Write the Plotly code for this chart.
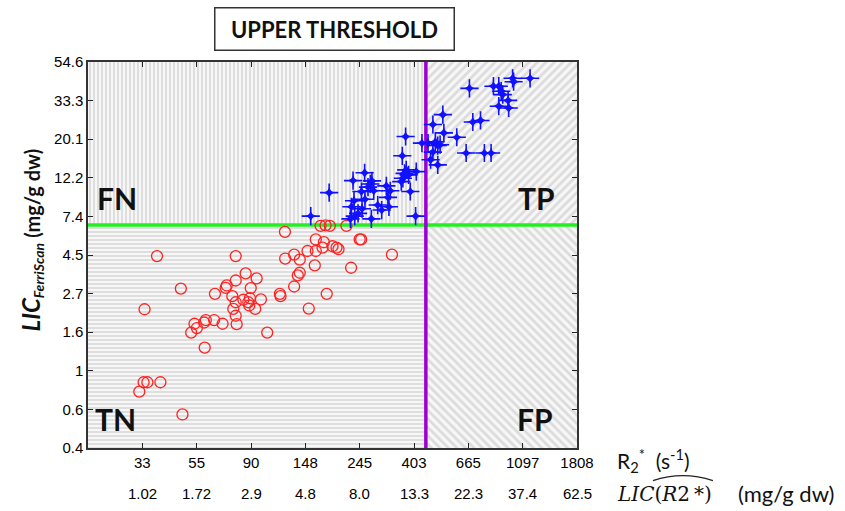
import numpy as np
import plotly.graph_objects as go

# ---------------- data ----------------
# Negative cases (red open circles): R2* (s^-1), LIC FerriScan (mg/g dw)
neg_r2 = [37.9, 78.2, 85.7, 78.2, 47.2, 72.0, 71.3, 64.6, 75.8, 78.2, 83.9, 87.8, 88.6, 89.8,
          33.8, 76.5, 78.2, 78.9, 69.3, 64.1, 59.4, 58.5, 53.5, 54.7, 51.9, 58.8, 33.5, 34.7,
          39.1, 32.2, 47.9, 170.7, 178.8, 185.9, 216.6, 123.0, 244.7, 248.0, 163.4, 176.0,
          190.6, 197.7, 201.4, 173.9, 163.4, 151.4, 133.9, 123.3, 141.0, 329.3, 161.9, 226.1,
          141.0, 138.5, 94.8, 133.9, 117.4, 118.1, 180.7, 98.6, 93.6, 153.2, 104.5, 89.1]
neg_lic = [4.42, 4.42, 3.53, 3.22, 2.90, 3.02, 2.93, 2.71, 2.63, 2.43, 2.51, 2.43, 2.33, 2.92,
           2.22, 2.23, 2.04, 1.83, 1.84, 1.93, 1.93, 1.87, 1.84, 1.74, 1.64, 1.35, 0.862, 0.862,
           0.862, 0.763, 0.568, 6.54, 6.58, 6.54, 6.54, 6.05, 5.48, 5.48, 5.48, 5.29,
           5.02, 4.93, 4.83, 4.93, 4.72, 4.72, 4.50, 4.28, 4.22, 4.50, 3.92, 3.80,
           3.56, 3.44, 3.31, 2.98, 2.71, 2.63, 2.71, 2.52, 2.23, 2.24, 1.64, 2.56]

# Positive cases (blue stars)
pos_r2 = [373.4, 362.3, 375.6, 370.0, 383.8, 364.2, 358.8, 411.9, 390.0, 256.1, 230.2, 273.9,
          270.0, 264.2, 278.5, 248.7, 256.9, 312.8, 324.4, 317.4, 320.3, 184.8, 232.3, 226.8,
          288.9, 299.6, 250.1, 241.1, 233.9, 224.8, 272.5, 156.0, 409.5,
          1000, 1009, 1174, 838, 880, 900, 913, 672, 959, 964, 880, 526, 693, 744, 480, 531,
          598, 434, 459, 491, 502, 513, 480, 470, 502, 652, 771, 820]
pos_lic = [20.8, 16.2, 13.5, 12.9, 12.65, 12.1, 11.6, 13.2, 10.2, 13.0, 11.75, 11.7,
           11.25, 10.8, 10.3, 10.2, 9.22, 10.97, 10.3, 9.46, 8.37, 10.05, 9.05, 8.37,
           8.56, 8.02, 8.16, 7.68, 7.42, 7.16, 7.16, 7.42, 7.42,
           44.2, 42.3, 44.2, 39.9, 39.9, 37.4, 35.8, 38.8, 33.2, 30.1, 30.8, 27.6, 25.1, 25.6, 24.3, 21.8,
           20.6, 19.1, 19.1, 19.4, 18.5, 18.7, 17.0, 15.4, 14.4, 16.8, 16.8, 16.8]

# thresholds
r2_threshold = 450.0
lic_threshold = 6.6

# tick labels
y_ticklabels = ["0.4", "0.6", "1", "1.6", "2.7", "4.5", "7.4", "12.2", "20.1", "33.3", "54.6"]
r2_ticklabels = ["33", "55", "90", "148", "245", "403", "665", "1097", "1808"]
lic_ticklabels = ["1.02", "1.72", "2.9", "4.8", "8.0", "13.3", "22.3", "37.4", "62.5"]

# axis extents (natural-log units)
x_ln_range = [3.0, 7.5]
y_ln_range = [-1.0, 4.0]

# ---------------- figure ----------------
xmin, xmax = np.exp(x_ln_range[0]), np.exp(x_ln_range[1])
ymin, ymax = np.exp(y_ln_range[0]), np.exp(y_ln_range[1])

y_tickvals = list(np.exp(np.arange(-1.0, 4.01, 0.5)))
x_tickvals = list(np.exp(np.arange(3.5, 7.51, 0.5)))

fig = go.Figure()

def hatch(x0, x1, y0, y1, shape, size):
    fig.add_trace(go.Scatter(
        x=[x0, x1, x1, x0, x0], y=[y0, y0, y1, y1, y0],
        mode="lines", fill="toself", line=dict(width=0, color="rgba(0,0,0,0)"),
        fillcolor="rgba(0,0,0,0)",
        fillpattern=dict(shape=shape, size=size, solidity=0.45,
                         fgcolor="#bfbfbf", bgcolor="#f7f7f7"),
        hoverinfo="skip", showlegend=False))

hatch(xmin, r2_threshold, lic_threshold, ymax, "|", 4)      # FN
hatch(xmin, r2_threshold, ymin, lic_threshold, "-", 4)      # TN
hatch(r2_threshold, xmax, lic_threshold, ymax, "/", 6)      # TP
hatch(r2_threshold, xmax, ymin, lic_threshold, "\\", 6)     # FP

# threshold lines
fig.add_trace(go.Scatter(x=[xmin, xmax], y=[lic_threshold, lic_threshold], mode="lines",
                         line=dict(color="#22ee22", width=3.5), hoverinfo="skip", showlegend=False))
fig.add_trace(go.Scatter(x=[r2_threshold, r2_threshold], y=[ymin, ymax], mode="lines",
                         line=dict(color="#9b00d0", width=3.5), hoverinfo="skip", showlegend=False))

# data points
fig.add_trace(go.Scatter(x=neg_r2, y=neg_lic, mode="markers", showlegend=False,
                         marker=dict(symbol="circle-open", size=11, color="#ff2222",
                                     line=dict(width=1.3, color="#ff2222"))))
fig.add_trace(go.Scatter(x=pos_r2, y=pos_lic, mode="markers", showlegend=False,
                         marker=dict(symbol="cross-thin", size=13, color="#1111ff",
                                     line=dict(width=1.6, color="#1111ff"))))
fig.add_trace(go.Scatter(x=pos_r2, y=pos_lic, mode="markers", showlegend=False,
                         marker=dict(symbol="star-diamond", size=8, color="#1111ff",
                                     line=dict(width=0, color="#1111ff"))))

tick_font = dict(family="Liberation Sans, Arial, sans-serif", size=15, color="#000")

fig.update_xaxes(type="log", range=[np.log10(xmin), np.log10(xmax)],
                 tickvals=x_tickvals, ticktext=r2_ticklabels,
                 tickfont=tick_font, ticks="inside", ticklen=5, tickcolor="#222",
                 showline=True, linecolor="#333", linewidth=1.5, mirror="ticks",
                 showgrid=False, zeroline=False)
fig.update_yaxes(type="log", range=[np.log10(ymin), np.log10(ymax)],
                 tickvals=y_tickvals, ticktext=y_ticklabels,
                 tickfont=tick_font, ticks="inside", ticklen=5, tickcolor="#222",
                 showline=True, linecolor="#333", linewidth=1.5, mirror="ticks",
                 showgrid=False, zeroline=False)

def px2paper(px, py):
    return (px - 87.7) / 489.3, (448.3 - py) / 386.8

ann = []
# second row of x tick labels (LIC estimated from R2*)
for xv, lab in zip(x_tickvals, lic_ticklabels):
    ann.append(dict(text=lab, xref="x", yref="paper", x=np.log10(xv), y=px2paper(0, 494)[1],
                    xanchor="center", yanchor="middle", showarrow=False, font=tick_font))
# title box
ann.append(dict(text="<b>UPPER THRESHOLD</b>", xref="paper", yref="paper", x=0.5044, y=1.0853,
                xanchor="center", yanchor="middle", showarrow=False,
                font=dict(family="Lato, Open Sans, sans-serif", size=22, color="#111"),
                bordercolor="#333", borderwidth=1.5, borderpad=8, width=222, height=25,
                bgcolor="white"))
# quadrant labels
qfont = dict(family="Lato, Liberation Sans, sans-serif", size=30, color="#111")
for t, x, y in [("FN", 0.060, 0.647), ("TP", 0.918, 0.647), ("TN", 0.056, 0.076), ("FP", 0.914, 0.076)]:
    ann.append(dict(text=f"<b>{t}</b>", xref="paper", yref="paper", x=x, y=y,
                    xanchor="center", yanchor="middle", showarrow=False, font=qfont))
# y-axis title
ann.append(dict(text="<span style='font-size:24px'><b><i>LIC</i></b></span><sub><b><i>FerriScan</i></b></sub>"
                     "\u00a0<b>(mg/g dw)</b>",
                xref="paper", yref="paper", x=px2paper(31, 0)[0], y=px2paper(0, 240)[1],
                xanchor="center", yanchor="middle", textangle=-90, showarrow=False,
                font=dict(family="Lato, Liberation Sans, sans-serif", size=20, color="#111")))
# x-axis titles
ann.append(dict(text="R<sub>2</sub><sup>*</sup>\u00a0\u00a0(s<sup>-1</sup>)", xref="paper", yref="paper",
                x=px2paper(615, 0)[0], y=px2paper(0, 461)[1], xanchor="left", yanchor="middle",
                showarrow=False, font=dict(family="Lato, Liberation Sans, sans-serif", size=21, color="#111")))
ann.append(dict(text="<i>LIC</i>(<i>R</i>2\u2009*)", xref="paper", yref="paper",
                x=px2paper(615, 0)[0], y=px2paper(0, 494)[1], xanchor="left", yanchor="middle",
                showarrow=False, font=dict(family="DejaVu Serif, Liberation Serif, serif", size=20, color="#111")))
ann.append(dict(text="(mg/g dw)", xref="paper", yref="paper",
                x=px2paper(736, 0)[0], y=px2paper(0, 494)[1], xanchor="left", yanchor="middle",
                showarrow=False, font=dict(family="Lato, Liberation Sans, sans-serif", size=22, color="#111")))
fig.update_layout(annotations=ann)

# wide hat over LIC(R2*)
ax0, ay0 = px2paper(653, 481)
axm, aym = px2paper(683, 471)
ax1, ay1 = px2paper(713, 481)
fig.add_shape(type="path", xref="paper", yref="paper",
              path=f"M {ax0},{ay0} Q {axm},{aym} {ax1},{ay1}",
              line=dict(color="#222", width=1.2))

fig.update_layout(width=845, height=511, margin=dict(l=88, r=268, t=62, b=63),
                  paper_bgcolor="white", plot_bgcolor="white", showlegend=False)

fig.write_html("out.html")
